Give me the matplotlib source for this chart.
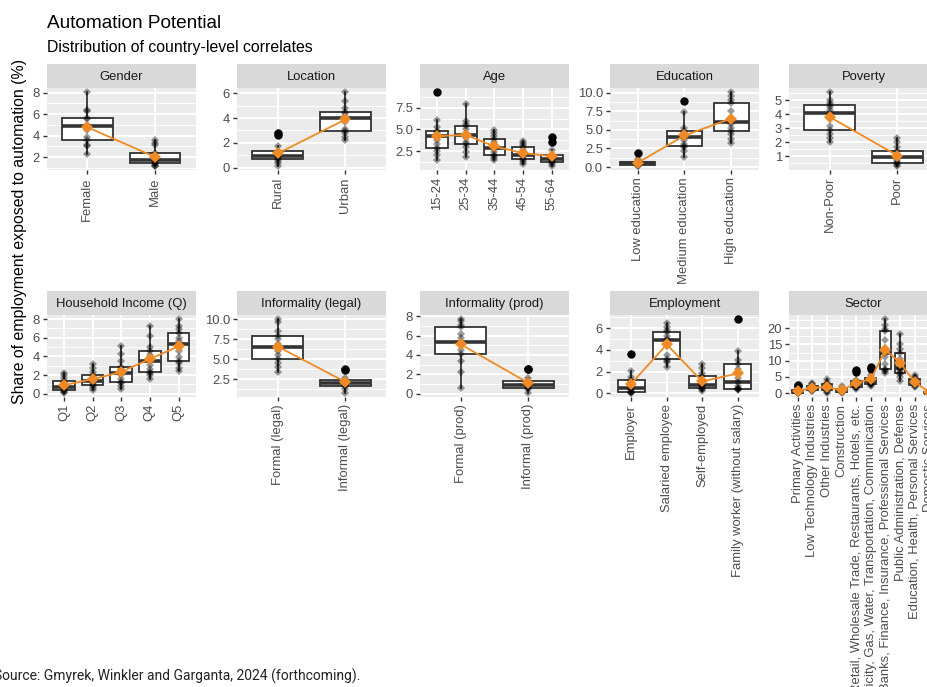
import numpy as np
import matplotlib
matplotlib.use('Agg')
import matplotlib.pyplot as plt
import matplotlib.ticker as ticker

'''
Facet grid of boxplots: country-level share of employment exposed to automation,
split by worker characteristics. Orange diamonds/line = category means.
'''

# ---- data (country values per category) ----
gender_cats = ['Female', 'Male']
gender_vals = [[2.3, 3.0, 3.1, 3.6, 3.9, 4.5, 4.85, 5.0, 5.5, 5.65, 6.3, 6.4, 8.05],
               [1.15, 1.2, 1.3, 1.45, 1.5, 1.6, 1.75, 1.8, 2.0, 2.35, 3.1, 3.3, 3.6]]

location_cats = ['Rural', 'Urban']
location_vals = [[0.1, 0.4, 0.55, 0.65, 0.75, 0.85, 0.9, 1.0, 1.15, 1.3, 1.75, 2.6, 2.75],
                 [2.2, 2.5, 2.8, 2.95, 3.1, 3.7, 4.0, 4.1, 4.3, 4.5, 4.8, 5.4, 6.1]]

age_cats = ['15-24', '25-34', '35-44', '45-54', '55-64']
age_vals = [[1.5, 2.0, 2.5, 2.8, 3.3, 3.8, 4.2, 4.4, 4.6, 4.8, 5.3, 6.1, 9.3],
            [1.8, 2.4, 3.0, 3.35, 3.6, 4.0, 4.3, 4.6, 5.0, 5.35, 5.6, 6.0, 7.9],
            [1.5, 1.7, 1.9, 2.1, 2.4, 2.7, 2.9, 3.1, 3.5, 3.9, 4.2, 4.6, 4.9],
            [1.0, 1.3, 1.5, 1.6, 1.8, 2.0, 2.1, 2.3, 2.6, 3.0, 3.2, 3.4, 3.7],
            [0.75, 1.0, 1.2, 1.3, 1.45, 1.55, 1.6, 1.75, 1.95, 2.1, 2.6, 3.5, 4.1]]

education_cats = ['Low education', 'Medium education', 'High education']
education_vals = [[0.1, 0.2, 0.25, 0.3, 0.35, 0.4, 0.5, 0.55, 0.6, 0.7, 0.8, 1.1, 1.85],
                  [1.4, 2.2, 2.7, 2.85, 3.1, 3.7, 4.0, 4.2, 4.6, 4.85, 5.3, 7.4, 8.9],
                  [3.2, 3.8, 4.4, 4.85, 5.3, 5.8, 6.1, 6.5, 7.6, 8.6, 9.0, 9.6, 10.1]]

poverty_cats = ['Non-Poor', 'Poor']
poverty_vals = [[2.0, 2.3, 2.6, 2.9, 3.2, 3.7, 4.1, 4.3, 4.5, 4.7, 4.8, 5.0, 5.6],
                [0.3, 0.4, 0.5, 0.55, 0.7, 0.85, 0.95, 1.05, 1.2, 1.4, 1.7, 2.0, 2.3]]

income_cats = ['Q1', 'Q2', 'Q3', 'Q4', 'Q5']
income_vals = [[0.05, 0.2, 0.3, 0.35, 0.5, 0.6, 0.7, 0.85, 1.1, 1.4, 1.7, 2.0, 2.2],
               [0.45, 0.6, 0.8, 0.9, 1.1, 1.3, 1.4, 1.6, 1.8, 2.05, 2.3, 2.8, 3.2],
               [0.5, 0.8, 1.1, 1.3, 1.6, 2.0, 2.25, 2.4, 2.6, 2.85, 3.5, 4.3, 5.1],
               [1.6, 2.0, 2.2, 2.35, 2.7, 3.1, 3.5, 3.8, 4.2, 4.6, 5.0, 6.2, 7.2],
               [2.4, 2.8, 3.3, 3.5, 3.9, 4.6, 5.35, 5.6, 6.0, 6.5, 6.9, 7.2, 8.0]]

legal_cats = ['Formal (legal)', 'Informal (legal)']
legal_vals = [[3.4, 4.0, 4.6, 5.05, 5.5, 6.1, 6.55, 6.9, 7.5, 7.9, 8.6, 9.7, 10.05],
              [0.75, 1.3, 1.6, 1.7, 1.85, 1.95, 2.05, 2.15, 2.3, 2.45, 2.7, 3.65, 3.85]]

prod_cats = ['Formal (prod)', 'Informal (prod)']
prod_vals = [[0.6, 2.2, 3.4, 4.1, 4.5, 5.0, 5.3, 5.7, 6.2, 6.9, 7.1, 7.5, 7.7],
             [0.05, 0.45, 0.55, 0.6, 0.75, 0.85, 0.95, 1.05, 1.2, 1.35, 1.6, 2.55, 2.6]]

employment_cats = ['Employer', 'Salaried employee', 'Self-employed', 'Family worker (without salary)']
employment_vals = [[0.0, 0.05, 0.1, 0.15, 0.25, 0.35, 0.5, 0.7, 1.0, 1.25, 1.5, 2.1, 3.6],
                   [2.4, 2.9, 3.0, 3.15, 3.5, 4.4, 4.9, 5.0, 5.3, 5.65, 5.8, 6.1, 6.5],
                   [0.25, 0.35, 0.4, 0.45, 0.6, 0.7, 0.8, 0.9, 1.2, 1.6, 1.9, 2.3, 2.7],
                   [0.3, 0.35, 0.4, 0.4, 0.5, 0.7, 1.0, 1.4, 2.2, 2.7, 3.1, 3.9, 6.85]]

sector_cats = ['Primary Activities', 'Low Technology Industries', 'Other Industries', 'Construction',
               'Retail, Wholesale Trade, Restaurants, Hotels, etc.',
               'Electricity, Gas, Water, Transportation, Communication',
               'Banks, Finance, Insurance, Professional Services',
               'Public Administration, Defense', 'Education, Health, Personal Services',
               'Domestic Services']
sector_vals = [[0.0, 0.1, 0.15, 0.2, 0.3, 0.35, 0.4, 0.5, 0.7, 0.9, 1.2, 2.1, 2.4],
               [0.6, 0.8, 1.0, 1.1, 1.3, 1.5, 1.6, 1.8, 2.0, 2.3, 2.6, 3.0, 3.3],
               [0.0, 0.3, 0.6, 0.9, 1.2, 1.5, 1.7, 1.9, 2.2, 2.7, 3.0, 3.6, 4.5],
               [0.2, 0.35, 0.45, 0.5, 0.6, 0.7, 0.8, 0.9, 1.0, 1.2, 1.4, 1.7, 2.2],
               [1.2, 1.5, 1.8, 2.0, 2.2, 2.5, 2.7, 3.0, 3.4, 3.8, 4.0, 6.6, 7.2],
               [2.2, 2.6, 2.8, 3.0, 3.3, 3.6, 3.9, 4.1, 4.4, 4.8, 5.5, 7.6, 8.0],
               [6.3, 6.8, 7.2, 7.6, 9.0, 11.0, 12.5, 14.0, 16.5, 19.0, 19.8, 21.0, 22.8],
               [3.9, 5.0, 5.8, 6.2, 6.8, 7.4, 7.9, 8.6, 10.5, 12.4, 13.5, 15.0, 18.2],
               [1.8, 2.2, 2.4, 2.6, 2.9, 3.2, 3.4, 3.7, 4.0, 4.4, 4.7, 5.1, 5.5],
               [0.0, 0.0, 0.05, 0.1, 0.1, 0.15, 0.2, 0.25, 0.3, 0.4, 0.5, 0.6, 0.8]]

plt.rcParams['font.family'] = ['Liberation Sans', 'DejaVu Sans']

W, H = 928, 687
ORANGE = '#EF8A25'
DARK = '#333333'


def frac(x0, y0, x1, y1):
    '''pixel box (top-left origin) -> figure fraction rect'''
    return [x0 / W, 1 - y1 / H, (x1 - x0) / W, (y1 - y0) / H]


def draw_panel(fig, left, top, title, cats, vals, step):
    '''One facet: grey strip on top, boxplots, country points, mean line.'''
    width = 149
    strip = fig.add_axes(frac(left, top, left + width, top + 24.3))
    strip.set_facecolor('#D9D9D9')
    strip.set_xticks([])
    strip.set_yticks([])
    for s in strip.spines.values():
        s.set_visible(False)
    strip.text(0.5, 0.48, title, ha='center', va='center', fontsize=9.4, color='#1A1A1A',
               transform=strip.transAxes)

    ax = fig.add_axes(frac(left, top + 24.3, left + width, top + 106))
    ax.set_facecolor('#EBEBEB')
    ax.set_axisbelow(True)
    for s in ax.spines.values():
        s.set_visible(False)

    pos = np.arange(1, len(cats) + 1)
    ax.boxplot(vals, positions=pos, widths=0.75, patch_artist=True, whis=1.5,
               boxprops=dict(facecolor='white', edgecolor=DARK, linewidth=1.3),
               medianprops=dict(color=DARK, linewidth=2.6),
               whiskerprops=dict(color=DARK, linewidth=1.3),
               capprops=dict(linewidth=0),
               flierprops=dict(marker='o', markerfacecolor='black', markeredgecolor='black',
                               markersize=5))

    for p, v in zip(pos, vals):
        ax.plot([p] * len(v), v, 'D', color='black', alpha=0.4, markersize=4.2,
                markeredgewidth=0, zorder=3)

    means = [np.mean(v) for v in vals]
    ax.plot(pos, means, '-', color=ORANGE, linewidth=1.3, zorder=4)
    ax.plot(pos, means, 'D', color=ORANGE, markersize=6, markeredgewidth=0, zorder=5)

    lo = min(min(v) for v in vals)
    hi = max(max(v) for v in vals)
    pad = 0.05 * (hi - lo)
    ax.set_ylim(lo - pad, hi + pad)
    ax.set_xlim(0.4, len(cats) + 0.6)

    ax.yaxis.set_major_locator(ticker.MultipleLocator(step))
    ax.yaxis.set_minor_locator(ticker.MultipleLocator(step / 2))
    if step % 1:
        ax.yaxis.set_major_formatter(ticker.FormatStrFormatter('%.1f'))
    else:
        ax.yaxis.set_major_formatter(ticker.FormatStrFormatter('%d'))

    ax.set_xticks(pos)
    ax.set_xticklabels(cats, rotation=90, ha='center', va='top')

    ax.grid(which='major', color='white', linewidth=1.4)
    ax.grid(which='minor', axis='y', color='white', linewidth=0.7)
    ax.tick_params(which='major', length=2.9, width=1.0, color=DARK, labelcolor='#4D4D4D',
                   labelsize=9.4, pad=2.2)
    ax.tick_params(which='minor', length=0)
    return ax


fig = plt.figure(figsize=(W / 100, H / 100), dpi=100)

cols = [46.7, 237, 420, 610, 789]
row1, row2 = 64, 291

draw_panel(fig, cols[0], row1, 'Gender', gender_cats, gender_vals, 2)
draw_panel(fig, cols[1], row1, 'Location', location_cats, location_vals, 2)
draw_panel(fig, cols[2], row1, 'Age', age_cats, age_vals, 2.5)
draw_panel(fig, cols[3], row1, 'Education', education_cats, education_vals, 2.5)
draw_panel(fig, cols[4], row1, 'Poverty', poverty_cats, poverty_vals, 1)

draw_panel(fig, cols[0], row2, 'Household Income (Q)', income_cats, income_vals, 2)
draw_panel(fig, cols[1], row2, 'Informality (legal)', legal_cats, legal_vals, 2.5)
draw_panel(fig, cols[2], row2, 'Informality (prod)', prod_cats, prod_vals, 2)
draw_panel(fig, cols[3], row2, 'Employment', employment_cats, employment_vals, 2)
draw_panel(fig, cols[4], row2, 'Sector', sector_cats, sector_vals, 5)

fig.text(46.7 / W, 1 - 28.3 / H, 'Automation Potential', fontsize=13.7, va='baseline',
         color='black')
fig.text(46.7 / W, 1 - 51.7 / H, 'Distribution of country-level correlates', fontsize=11.4,
         va='baseline', color='black')
fig.text(20 / W, 1 - 231 / H, 'Share of employment exposed to automation (%)', fontsize=11.4,
         rotation=90, ha='center', va='center', color='black')
fig.text(-6 / W, 1 - 681 / H, 'Source: Gmyrek, Winkler and Garganta, 2024 (forthcoming).',
         fontsize=10, family=['Roboto', 'DejaVu Sans'], va='baseline', color='#222222')

fig.savefig('out.png', dpi=100)
